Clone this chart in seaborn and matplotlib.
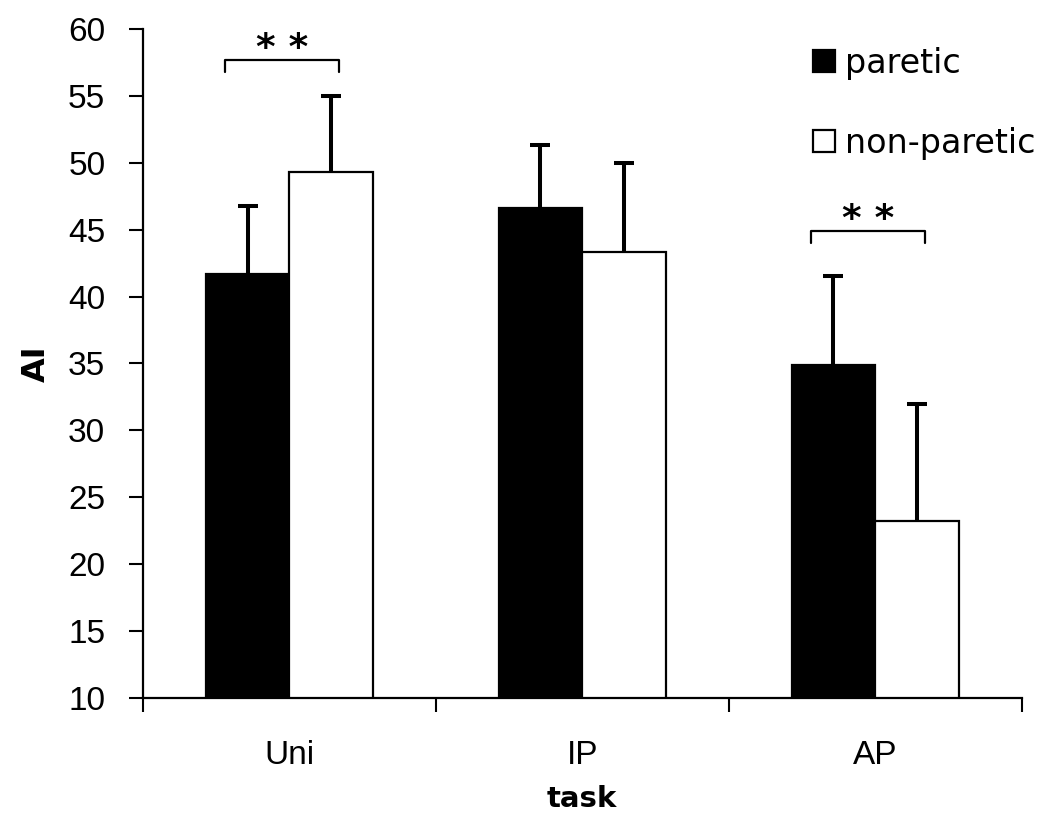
import numpy as np
import pandas as pd
import matplotlib
matplotlib.use("Agg")
import matplotlib.pyplot as plt
import seaborn as sns

# ── Data ─────────────────────────────────────────────────────────────────
tasks = ["Uni", "IP", "AP"]
sides = ["paretic", "non-paretic"]
paretic_mean = [41.7, 46.6, 34.9]
nonparetic_mean = [49.3, 43.3, 23.2]
paretic_sd = [5.1, 4.7, 6.6]
nonparetic_sd = [5.7, 6.7, 8.8]
# significance brackets: (task, bracket level)
sig_tasks = ["Uni", "AP"]
sig_levels = [57.7, 44.9]

df = pd.DataFrame({
    "task": tasks * 2,
    "side": [sides[0]] * 3 + [sides[1]] * 3,
    "AI": paretic_mean + nonparetic_mean,
    "sd": paretic_sd + nonparetic_sd,
})

sns.set_style("ticks")
plt.rcParams["font.family"] = ["Liberation Sans", "DejaVu Sans"]
plt.rcParams.update({
    "text.color": "black", "axes.labelcolor": "black",
    "xtick.color": "black", "ytick.color": "black",
    "axes.edgecolor": "black",
})

fig = plt.figure(figsize=(10.5, 8.27), dpi=100)
ax = fig.add_axes([0.136, 0.156, 0.837, 0.809])

sns.barplot(
    data=df, x="task", y="AI", hue="side", order=tasks, hue_order=sides,
    palette={"paretic": "black", "non-paretic": "white"},
    edgecolor="black", linewidth=1.6, width=0.57, gap=0,
    errorbar=None, ax=ax,
)

# one-sided error bars at bar centres (stem + top cap only)
for patch_set, side in zip(ax.containers, sides):
    sub = df[df["side"] == side].set_index("task").loc[tasks]
    xs = [p.get_x() + p.get_width() / 2 for p in patch_set]
    tops = sub["AI"] + sub["sd"]
    ax.vlines(xs, sub["AI"], tops, color="black", lw=2.9, zorder=1)
    ax.plot(xs, tops, ls="none", marker="_", ms=15, mew=2.9,
            color="black", zorder=1)

# significance brackets
for task, level in zip(sig_tasks, sig_levels):
    c = tasks.index(task)
    x0, x1 = c - 0.22, c + 0.17
    ax.plot([x0, x0, x1, x1], [level - 0.9, level, level, level - 0.9],
            color="black", lw=1.6)
    ax.text((x0 + x1) / 2, level + 0.05, "* *", ha="center", va="baseline",
            fontsize=27, fontweight="bold", family="DejaVu Sans")

ax.set_ylim(10, 60)
ax.set_xlim(-0.5, len(tasks) - 0.5)
ax.set_yticks(np.arange(10, 61, 5))
ax.set_xticks(range(len(tasks)))
ax.set_xticks(np.arange(-0.5, len(tasks), 1.0), minor=True)
ax.tick_params(axis="x", which="major", length=0, pad=30, labelsize=24)
ax.tick_params(axis="x", which="minor", length=10, width=1.5, direction="out")
ax.tick_params(axis="y", length=10, width=1.5, direction="out", labelsize=24,
               pad=17)

for s in ["top", "right"]:
    ax.spines[s].set_visible(False)
for s in ["left", "bottom"]:
    ax.spines[s].set_linewidth(1.6)

ax.set_xlabel("task", fontsize=21, fontweight="bold", family="DejaVu Sans",
              labelpad=10)
ax.set_ylabel("AI", fontsize=23, fontweight="bold", family="DejaVu Sans",
              labelpad=12)

handles, labels = ax.get_legend_handles_labels()
ax.legend(handles, labels, frameon=False, loc="upper right",
          bbox_to_anchor=(1.05, 1.018),
          prop={"family": "DejaVu Sans", "size": 24},
          handlelength=0.65, handleheight=0.65, handletextpad=0.3,
          labelspacing=1.4)

fig.savefig("out.png", dpi=100)
plt.close(fig)
